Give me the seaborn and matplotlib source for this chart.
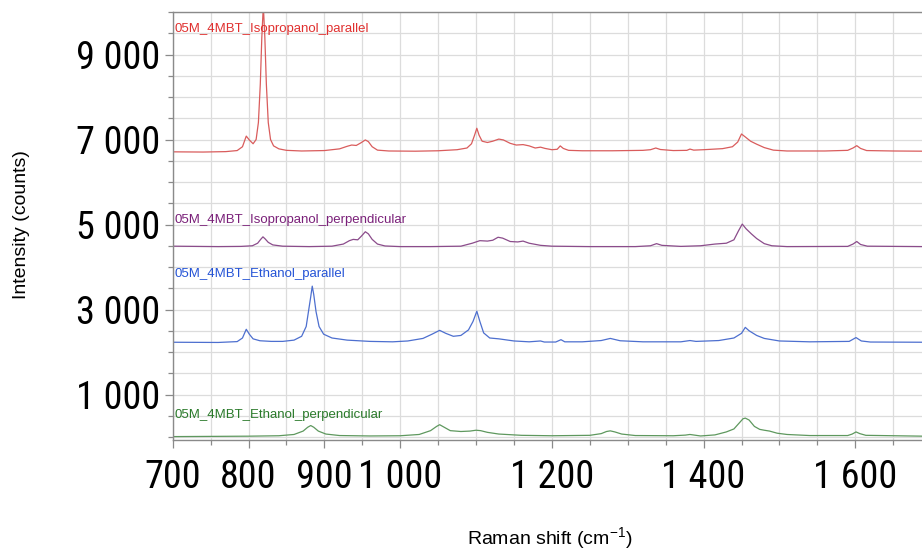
import matplotlib
matplotlib.use("Agg")
import matplotlib.pyplot as plt
from matplotlib import font_manager
from matplotlib.ticker import FixedLocator, MultipleLocator, FuncFormatter
import seaborn as sns
import pandas as pd

# Raman spectra of 0.5 M 4-MBT, stacked as recorded (counts)
iso_par_shift = [700, 740, 770, 785, 792, 797, 801, 806, 810, 813, 815.5, 817.5, 819.5, 821.5, 823.5, 826,
                 829, 833, 840, 850, 870, 900, 920, 930, 936, 942, 948, 954, 958, 963, 970, 985, 1020, 1050,
                 1075, 1088, 1094, 1098, 1101, 1104, 1108, 1115, 1122, 1130, 1136, 1145, 1153, 1162, 1170,
                 1178, 1185, 1191, 1200, 1207, 1211, 1215, 1222, 1240, 1280, 1320, 1330, 1337, 1343, 1360,
                 1378, 1382, 1387, 1400, 1425, 1438, 1445, 1450, 1455, 1462, 1470, 1480, 1492, 1510, 1560,
                 1590, 1597, 1602, 1607, 1615, 1650, 1690]
iso_par_counts = [6710, 6705, 6715, 6740, 6830, 7080, 6990, 6900, 7000, 7400, 8300, 9400, 10150, 9400, 8300, 7400,
                  7000, 6850, 6780, 6745, 6730, 6740, 6780, 6840, 6870, 6860, 6920, 6990, 6950, 6830, 6750, 6730,
                  6725, 6735, 6760, 6800, 6900, 7100, 7265, 7100, 6960, 6930, 6960, 7010, 6990, 6910, 6870, 6880,
                  6850, 6800, 6820, 6790, 6760, 6770, 6850, 6790, 6745, 6735, 6735, 6745, 6760, 6800, 6765, 6740,
                  6745, 6775, 6750, 6760, 6785, 6830, 6940, 7130, 7060, 6960, 6890, 6810, 6750, 6730, 6730,
                  6745, 6800, 6855, 6790, 6740, 6730, 6725]

iso_perp_shift = [700, 760, 790, 805, 812, 816, 819, 822, 826, 832, 845, 880, 910, 925, 933, 938, 944, 949, 954,
                  958, 963, 970, 980, 1000, 1040, 1080, 1095, 1105, 1115, 1122, 1129, 1135, 1145, 1155, 1162,
                  1170, 1185, 1200, 1250, 1310, 1330, 1338, 1345, 1370, 1396, 1415, 1430, 1440, 1446, 1451,
                  1456, 1463, 1470, 1480, 1490, 1510, 1590, 1597, 1602, 1607, 1616, 1690]
iso_perp_counts = [4490, 4480, 4485, 4500, 4560, 4650, 4710, 4660, 4580, 4520, 4490, 4480, 4490, 4540, 4620, 4650,
                   4640, 4730, 4830, 4780, 4650, 4540, 4495, 4480, 4480, 4490, 4560, 4620, 4610, 4630, 4700,
                   4680, 4600, 4590, 4610, 4560, 4510, 4490, 4480, 4480, 4500, 4550, 4510, 4485, 4500, 4540,
                   4560, 4640, 4850, 5010, 4900, 4780, 4670, 4550, 4500, 4480, 4485, 4540, 4600, 4530, 4490, 4480]

eth_par_shift = [700, 760, 785, 792, 797, 801, 806, 815, 830, 845, 860, 870, 876, 879, 882, 884, 886, 889, 893,
                 899, 910, 930, 960, 990, 1010, 1030, 1042, 1052, 1060, 1070, 1080, 1090, 1096, 1101, 1105,
                 1110, 1118, 1130, 1150, 1170, 1185, 1190, 1205, 1212, 1217, 1240, 1265, 1277, 1290, 1320,
                 1370, 1382, 1390, 1420, 1440, 1450, 1455, 1460, 1470, 1480, 1500, 1540, 1592, 1601, 1608,
                 1620, 1690]
eth_par_counts = [2230, 2225, 2245, 2330, 2535, 2420, 2310, 2265, 2250, 2250, 2280, 2370, 2600, 2950, 3300, 3550,
                  3350, 2950, 2600, 2420, 2330, 2280, 2250, 2240, 2260, 2320, 2420, 2510, 2440, 2370, 2390,
                  2520, 2720, 2960, 2720, 2450, 2330, 2310, 2260, 2240, 2260, 2235, 2235, 2290, 2240, 2240,
                  2270, 2320, 2265, 2240, 2240, 2270, 2250, 2270, 2330, 2440, 2580, 2500, 2390, 2320, 2260,
                  2240, 2250, 2340, 2260, 2235, 2230]

eth_perp_shift = [700, 800, 840, 860, 872, 878, 882, 886, 892, 902, 920, 960, 1000, 1025, 1040, 1048, 1052, 1057,
                  1066, 1080, 1092, 1100, 1106, 1115, 1130, 1160, 1200, 1250, 1265, 1272, 1277, 1283, 1292,
                  1310, 1360, 1376, 1382, 1388, 1396, 1415, 1430, 1440, 1447, 1452, 1455, 1460, 1467, 1474,
                  1480, 1487, 1497, 1510, 1540, 1590, 1596, 1601, 1606, 1614, 1690]
eth_perp_counts = [10, 20, 30, 60, 140, 230, 270, 230, 140, 70, 35, 25, 30, 60, 150, 250, 290, 240,
                   150, 130, 140, 160, 150, 110, 70, 40, 30, 40, 80, 130, 145, 120, 70,
                   35, 30, 45, 60, 45, 25, 50, 120, 190, 330, 430, 445, 400, 250, 180,
                   160, 140, 90, 60, 35, 35, 70, 120, 80, 40, 20]

series_names = ["05M_4MBT_Isopropanol_parallel", "05M_4MBT_Isopropanol_perpendicular",
                "05M_4MBT_Ethanol_parallel", "05M_4MBT_Ethanol_perpendicular"]
series_shift = [iso_par_shift, iso_perp_shift, eth_par_shift, eth_perp_shift]
series_counts = [iso_par_counts, iso_perp_counts, eth_par_counts, eth_perp_counts]
label_heights = [9530, 5035, 3765, 447]

line_colors = ["#d95c5c", "#8b4c8b", "#4d6fcf", "#5e985e"]
text_colors = ["#e0302f", "#7a2079", "#2554d6", "#2a7a2a"]

x_major = [700, 800, 900, 1000, 1200, 1400, 1600]
y_major = [1000, 3000, 5000, 7000, 9000]

frames = []
for name, xs, ys in zip(series_names, series_shift, series_counts):
    frames.append(pd.DataFrame({"shift": xs, "counts": ys, "spectrum": name}))
df = pd.concat(frames, ignore_index=True)

sns.set_theme(style="white")
plt.rcParams["font.family"] = ["Liberation Sans", "DejaVu Sans"]
plt.rcParams["mathtext.default"] = "regular"

# Prefer a condensed face for the big tick numbers when one is available
installed = {f.name for f in font_manager.fontManager.ttflist}
narrow = [n for n in ["Liberation Sans Narrow", "Roboto Condensed", "Arial Narrow",
                      "Open Sans Condensed"] if n in installed]
tick_family = narrow[:1] + ["Liberation Sans", "DejaVu Sans"]
tick_size = 27.5 if narrow else 24

fig = plt.figure(figsize=(9.22, 5.51), dpi=100)
ax = fig.add_axes([172.7 / 922, 1 - 440 / 551, (922 - 172.7) / 922, (440 - 12) / 551])

sns.lineplot(data=df, x="shift", y="counts", hue="spectrum", hue_order=series_names,
             palette=line_colors, estimator=None, linewidth=0.9, legend=False, ax=ax)

ax.set_xlim(700, 1688)
ax.set_ylim(-70, 10000)

ax.xaxis.set_major_locator(FixedLocator(x_major))
ax.xaxis.set_minor_locator(MultipleLocator(50))
ax.yaxis.set_major_locator(FixedLocator(y_major))
ax.yaxis.set_minor_locator(MultipleLocator(500))
fmt = FuncFormatter(lambda v, p: f"{v:,.0f}".replace(",", " "))
ax.xaxis.set_major_formatter(fmt)
ax.yaxis.set_major_formatter(fmt)

ax.grid(which="both", color="#dcdcdc", linewidth=0.9)
ax.set_axisbelow(True)

spine_col = "#8a8a8a"
for side in ["left", "bottom", "top"]:
    ax.spines[side].set_visible(True)
    ax.spines[side].set_color(spine_col)
    ax.spines[side].set_linewidth(1.0)
ax.spines["right"].set_visible(False)

ax.tick_params(axis="both", which="major", direction="out", length=6, width=0.9,
               color=spine_col, labelcolor="black")
ax.tick_params(axis="both", which="minor", direction="out", length=3.5, width=0.9, color=spine_col)
ax.tick_params(axis="x", which="both", bottom=True, pad=8)
ax.tick_params(axis="y", which="both", left=True, pad=3)
for lab in ax.get_xticklabels() + ax.get_yticklabels():
    lab.set_family(tick_family)
    lab.set_fontsize(tick_size)

ax.set_xlabel("")
ax.set_ylabel("")

for name, yl, col in zip(series_names, label_heights, text_colors):
    ax.text(703, yl, name, color=col, fontsize=9.5, ha="left", va="baseline")

fig.text(550 / 922, 1 - 538 / 551, "Raman shift (cm$^{-1}$)", ha="center", va="center",
         fontsize=14, color="black")
fig.text(22 / 922, 1 - 225 / 551, "Intensity (counts)", ha="center", va="center",
         rotation=90, fontsize=14, color="black")

fig.savefig("out.png", dpi=100)
